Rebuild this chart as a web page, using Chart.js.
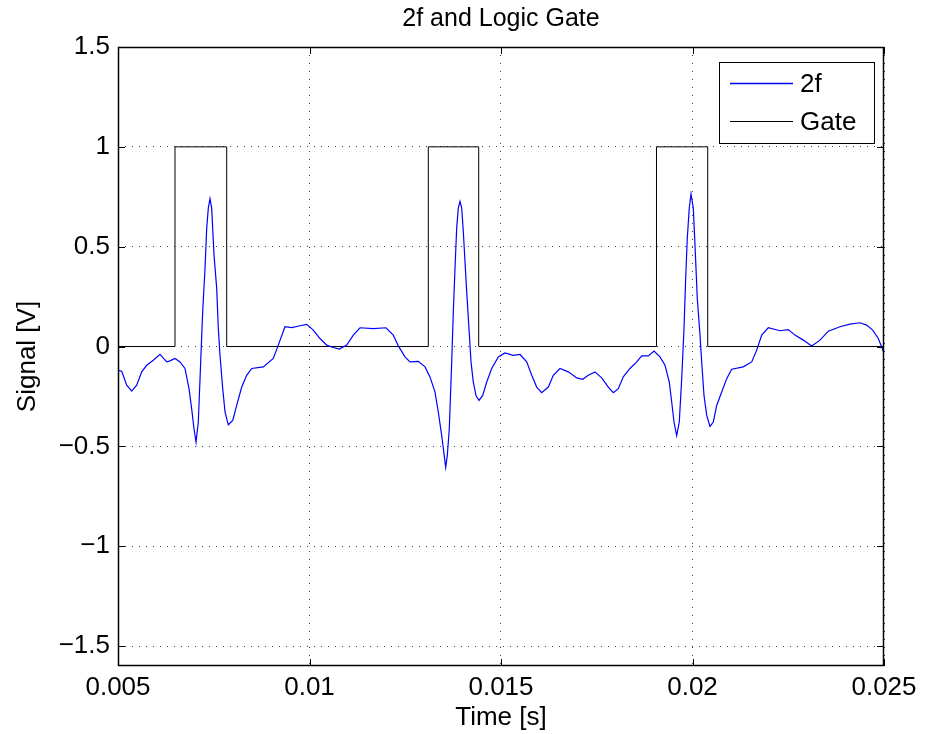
<!DOCTYPE html>
<html>
<head>
<meta charset="utf-8">
<title>2f and Logic Gate</title>
<script src="https://cdn.jsdelivr.net/npm/chart.js@4.4.0/dist/chart.umd.min.js"></script>
<style>
  html, body { margin: 0; padding: 0; background: #fff; }
  #wrap { width: 925px; height: 734px; }
</style>
</head>
<body>
<div id="wrap"><canvas id="chart" width="925" height="734"></canvas></div>
<script>
// 2f demodulated signal (seconds, volts)
const time2f = [
  0.005000, 0.005097, 0.005227, 0.005358, 0.005488, 0.005619, 0.005749, 0.005922,
  0.006097, 0.006272, 0.006358, 0.006488, 0.006619, 0.006749, 0.006854, 0.006924,
  0.006984, 0.007037, 0.007097, 0.007159, 0.007211, 0.007272, 0.007316, 0.007358,
  0.007402, 0.007446, 0.007507, 0.007577, 0.007619, 0.007663, 0.007734, 0.007794,
  0.007880, 0.007995, 0.008099, 0.008230, 0.008360, 0.008491, 0.008794, 0.009055,
  0.009185, 0.009360, 0.009535, 0.009752, 0.009927, 0.010099, 0.010274, 0.010449,
  0.010621, 0.010778, 0.010971, 0.011144, 0.011319, 0.011666, 0.011997, 0.012188,
  0.012319, 0.012493, 0.012624, 0.012841, 0.013016, 0.013146, 0.013277, 0.013363,
  0.013452, 0.013512, 0.013556, 0.013598, 0.013650, 0.013713, 0.013755, 0.013799,
  0.013843, 0.013885, 0.013930, 0.013974, 0.014016, 0.014060, 0.014104, 0.014164,
  0.014217, 0.014277, 0.014347, 0.014426, 0.014522, 0.014627, 0.014757, 0.014930,
  0.015104, 0.015321, 0.015496, 0.015671, 0.015802, 0.015932, 0.016063, 0.016235,
  0.016366, 0.016540, 0.016757, 0.016977, 0.017133, 0.017279, 0.017454, 0.017629,
  0.017802, 0.017932, 0.018063, 0.018193, 0.018368, 0.018543, 0.018674, 0.018846,
  0.018995, 0.019151, 0.019282, 0.019394, 0.019457, 0.019517, 0.019587, 0.019655,
  0.019718, 0.019778, 0.019822, 0.019864, 0.019916, 0.019961, 0.020021, 0.020065,
  0.020125, 0.020196, 0.020240, 0.020300, 0.020371, 0.020457, 0.020543, 0.020632,
  0.020762, 0.020893, 0.021023, 0.021326, 0.021546, 0.021676, 0.021807, 0.021979,
  0.022285, 0.022501, 0.022676, 0.022893, 0.023112, 0.023329, 0.023546, 0.023851,
  0.024112, 0.024373, 0.024548, 0.024705, 0.024851, 0.024940, 0.025000
];
const signal2f = [
  -0.119, -0.124, -0.194, -0.223, -0.194, -0.127, -0.094, -0.069,
  -0.039, -0.077, -0.072, -0.060, -0.077, -0.110, -0.211, -0.312,
  -0.412, -0.479, -0.378, -0.077, 0.174, 0.392, 0.593, 0.693,
  0.740, 0.693, 0.459, 0.291, 0.090, -0.044, -0.211, -0.328,
  -0.392, -0.370, -0.295, -0.203, -0.144, -0.110, -0.102, -0.060,
  0.007, 0.099, 0.095, 0.104, 0.111, 0.082, 0.040, 0.007,
  -0.005, -0.013, 0.007, 0.057, 0.094, 0.090, 0.094, 0.057,
  0.003, -0.052, -0.077, -0.074, -0.102, -0.152, -0.228, -0.328,
  -0.446, -0.538, -0.605, -0.546, -0.412, -0.077, 0.174, 0.392,
  0.593, 0.693, 0.727, 0.693, 0.576, 0.425, 0.275, 0.090,
  -0.077, -0.178, -0.245, -0.270, -0.245, -0.178, -0.110, -0.052,
  -0.032, -0.044, -0.040, -0.077, -0.144, -0.203, -0.231, -0.203,
  -0.144, -0.110, -0.127, -0.157, -0.164, -0.144, -0.127, -0.157,
  -0.203, -0.231, -0.211, -0.152, -0.110, -0.077, -0.047, -0.047,
  -0.023, -0.052, -0.094, -0.178, -0.278, -0.378, -0.446, -0.378,
  -0.161, 0.090, 0.342, 0.543, 0.693, 0.764, 0.693, 0.509,
  0.241, 0.057, -0.077, -0.245, -0.345, -0.400, -0.378, -0.295,
  -0.228, -0.161, -0.114, -0.102, -0.077, -0.018, 0.057, 0.094,
  0.079, 0.085, 0.057, 0.032, 0.003, 0.032, 0.077, 0.099,
  0.112, 0.119, 0.107, 0.082, 0.040, -0.002, -0.035
];

// logic gate edges (each level holds until the next edge)
const gateTimes = [0.005, 0.006488, 0.007838, 0.013102, 0.014418, 0.019060, 0.020397, 0.025];
const gateLevels = [0, 1, 0, 1, 0, 1, 0, 0];

const xTickValues = [0.005, 0.01, 0.015, 0.02, 0.025];
const xTickLabels = ['0.005', '0.01', '0.015', '0.02', '0.025'];
const yTickValues = [-1.5, -1, -0.5, 0, 0.5, 1, 1.5];
const yTickLabels = ['\u22121.5', '\u22121', '\u22120.5', '0', '0.5', '1', '1.5'];

const FONT = "'Liberation Sans', Arial, Helvetica, sans-serif";
const COLOR_2F = 'rgb(0, 0, 255)';
const COLOR_GATE = 'rgb(0, 0, 0)';

// axes box, inward tick marks and the legend
const framePlugin = {
  id: 'frame',
  afterDatasetsDraw(chart) {
    const { ctx, chartArea: a, scales: { x, y } } = chart;
    ctx.save();
    ctx.strokeStyle = '#000';
    ctx.lineWidth = 1;
    ctx.beginPath();
    xTickValues.forEach(v => {
      const px = Math.round(x.getPixelForValue(v)) + 0.5;
      ctx.moveTo(px, a.bottom); ctx.lineTo(px, a.bottom - 7);
      ctx.moveTo(px, a.top); ctx.lineTo(px, a.top + 7);
    });
    yTickValues.forEach(v => {
      const py = Math.round(y.getPixelForValue(v)) + 0.5;
      ctx.moveTo(a.left, py); ctx.lineTo(a.left + 7, py);
      ctx.moveTo(a.right, py); ctx.lineTo(a.right - 7, py);
    });
    ctx.stroke();
    ctx.lineWidth = 1.5;
    ctx.strokeRect(Math.round(a.left) + 0.5, Math.round(a.top) + 0.5,
      Math.round(a.width) - 1, Math.round(a.height) - 1);

    // legend box in the upper right corner
    const bw = 155, bh = 81;
    const bx = Math.round(a.right) - 10 - bw, by = Math.round(a.top) + 15;
    ctx.fillStyle = '#fff';
    ctx.fillRect(bx, by, bw, bh);
    ctx.lineWidth = 1;
    ctx.strokeStyle = '#000';
    ctx.strokeRect(bx + 0.5, by + 0.5, bw, bh);
    ctx.font = '26px ' + FONT;
    ctx.textBaseline = 'middle';
    ctx.textAlign = 'left';
    const entries = [['2f', COLOR_2F, 1.5], ['Gate', COLOR_GATE, 1]];
    entries.forEach(([label, color, width], i) => {
      const ly = Math.round(by + 21 + i * 37.5) + 0.5;
      ctx.save();
      ctx.strokeStyle = color;
      ctx.lineWidth = width;
      ctx.beginPath();
      ctx.moveTo(bx + 11, ly);
      ctx.lineTo(bx + 74, ly);
      ctx.stroke();
      ctx.restore();
      ctx.fillStyle = '#000';
      ctx.fillText(label, bx + 81, ly + 1);
    });
    ctx.restore();
  }
};

new Chart(document.getElementById('chart'), {
  type: 'scatter',
  data: {
    datasets: [
      {
        label: '2f',
        data: time2f.map((t, i) => ({ x: t, y: signal2f[i] })),
        showLine: true,
        borderColor: COLOR_2F,
        borderWidth: 1.2,
        pointRadius: 0,
        tension: 0
      },
      {
        label: 'Gate',
        data: gateTimes.map((t, i) => ({ x: t, y: gateLevels[i] })),
        showLine: true,
        stepped: 'before',
        borderColor: COLOR_GATE,
        borderWidth: 1,
        pointRadius: 0
      }
    ]
  },
  options: {
    responsive: false,
    animation: false,
    events: [],
    layout: { padding: { left: 0, right: 41, top: 0, bottom: 0 } },
    plugins: {
      legend: { display: false },
      tooltip: { enabled: false },
      title: {
        display: true,
        fullSize: false,
        text: '2f and Logic Gate',
        color: '#000',
        font: { family: FONT, size: 25, weight: 'normal' },
        padding: { top: 4, bottom: 13 }
      }
    },
    scales: {
      x: {
        type: 'linear',
        min: 0.005,
        max: 0.025,
        afterFit(s) { s.height = 68; },
        afterBuildTicks(s) { s.ticks = xTickValues.map(v => ({ value: v })); },
        grid: { color: 'rgba(0,0,0,0.75)', drawTicks: false },
        border: { display: false, dash: [1, 7] },
        ticks: {
          color: '#000',
          padding: 6,
          maxRotation: 0,
          autoSkip: false,
          font: { family: FONT, size: 26 },
          callback: (v, i) => xTickLabels[i]
        },
        title: {
          display: true,
          text: 'Time [s]',
          color: '#000',
          font: { family: FONT, size: 26 },
          padding: { top: 0, bottom: 1 }
        }
      },
      y: {
        type: 'linear',
        min: -1.6,
        max: 1.5,
        afterFit(s) { s.width = 118; },
        afterBuildTicks(s) { s.ticks = yTickValues.map(v => ({ value: v })); },
        grid: { color: 'rgba(0,0,0,0.75)', drawTicks: false },
        border: { display: false, dash: [1, 6] },
        ticks: {
          color: '#000',
          padding: 8,
          autoSkip: false,
          font: { family: FONT, size: 26 },
          callback: (v, i) => yTickLabels[i]
        },
        title: {
          display: true,
          text: 'Signal [V]',
          color: '#000',
          font: { family: FONT, size: 26 },
          padding: { top: 12, bottom: 0 }
        }
      }
    }
  },
  plugins: [framePlugin]
});
</script>
</body>
</html>
